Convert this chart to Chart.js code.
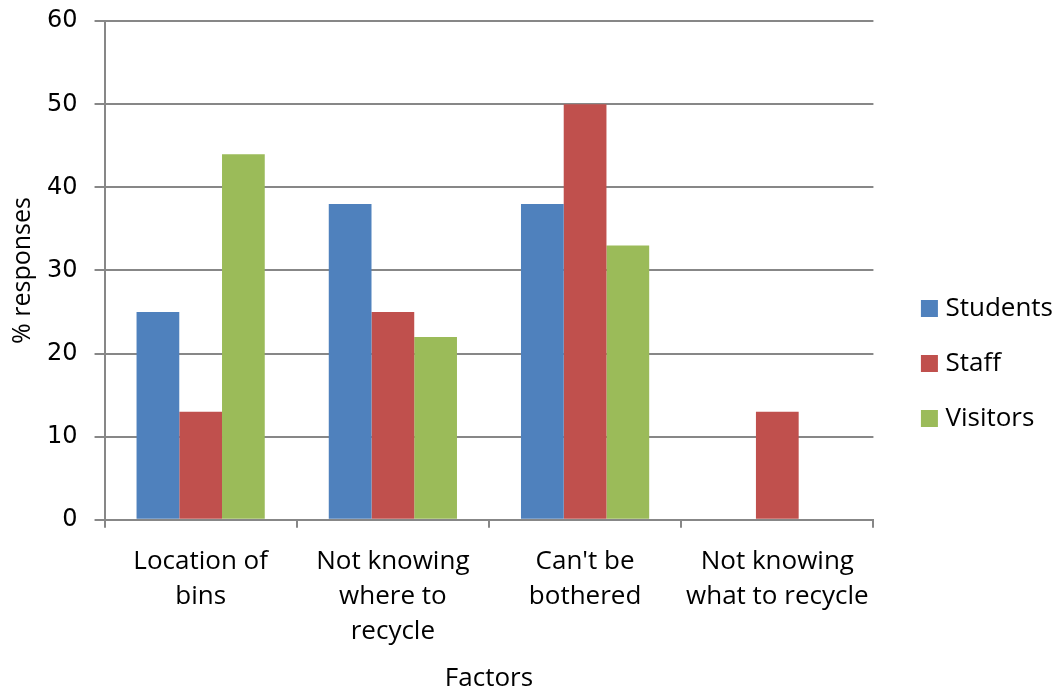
<!DOCTYPE html>
<html>
<head>
<meta charset="utf-8">
<script src="https://cdn.jsdelivr.net/npm/chart.js@4/dist/chart.umd.min.js"></script>
<style>
  html, body { margin: 0; padding: 0; background: #fff; }
  #wrap { width: 1055px; height: 690px; }
</style>
</head>
<body>
<div id="wrap"><canvas id="recycleChart"></canvas></div>
<script>
// Reasons for not recycling, % responses per group
const factors = [
    ['Location of', 'bins'],
    ['Not knowing', 'where to', 'recycle'],
    ["Can't be", 'bothered'],
    ['Not knowing', 'what to recycle']
];
const students = [25, 38, 38, 0];
const staff = [13, 25, 50, 13];
const visitors = [44, 22, 33, 0];
const yTicks = [0, 10, 20, 30, 40, 50, 60];

const axisGrey = '#878787';
const labelFont = "'Open Sans', Lato, sans-serif";

const ctx = document.getElementById('recycleChart').getContext('2d');
const myChart = new Chart(ctx, {
    type: 'bar',
    data: {
        labels: factors,
        datasets: [
            { label: 'Students', data: students, backgroundColor: '#4f81bd' },
            { label: 'Staff', data: staff, backgroundColor: '#c0504d' },
            { label: 'Visitors', data: visitors, backgroundColor: '#9bbb59' }
        ]
    },
    options: {
        responsive: true,
        maintainAspectRatio: false,
        animation: false,
        layout: { padding: { top: 2, right: -8, left: 0, bottom: -2 } },
        datasets: {
            bar: { categoryPercentage: 0.667, barPercentage: 1.0 }
        },
        plugins: {
            tooltip: { enabled: false },
            legend: {
                position: 'right',
                title: { display: true, text: ' ', padding: 8, font: { size: 14 } },
                labels: {
                    usePointStyle: true,
                    pointStyle: 'rect',
                    boxWidth: 6,
                    boxHeight: 17,
                    padding: 29,
                    color: '#000',
                    font: { family: labelFont, size: 26 }
                }
            }
        },
        scales: {
            x: {
                grid: {
                    offset: true,
                    drawOnChartArea: false,
                    drawTicks: true,
                    tickLength: 8,
                    color: axisGrey,
                    lineWidth: 2
                },
                border: { color: axisGrey, width: 2 },
                ticks: {
                    color: '#000',
                    padding: 16,
                    maxRotation: 0,
                    autoSkip: false,
                    font: { family: labelFont, size: 26, lineHeight: 1.35 }
                },
                title: {
                    display: true,
                    text: 'Factors',
                    color: '#000',
                    padding: { top: 1, bottom: 0 },
                    font: { family: labelFont, size: 26, lineHeight: 1.0 }
                }
            },
            y: {
                min: 0,
                max: 60,
                afterBuildTicks: function(axis) {
                    axis.ticks = yTicks.map(v => ({ value: v }));
                },
                grid: {
                    color: axisGrey,
                    lineWidth: 2,
                    tickLength: 10
                },
                border: { color: axisGrey, width: 2 },
                ticks: {
                    color: '#000',
                    padding: 17,
                    font: { family: "'DejaVu Sans', sans-serif", size: 24, lineHeight: 0.35 }
                },
                title: {
                    display: true,
                    text: '% responses',
                    color: '#000',
                    padding: { top: 15, bottom: 0 },
                    font: { family: labelFont, size: 25, lineHeight: 0.6 }
                }
            },
            // empty strip between the plot and the legend
            gap: {
                type: 'linear',
                position: 'right',
                grid: { display: false },
                border: { display: false },
                ticks: { display: false },
                afterFit: function(scale) {
                    scale.width = 24;
                }
            }
        }
    }
});
</script>
</body>
</html>
